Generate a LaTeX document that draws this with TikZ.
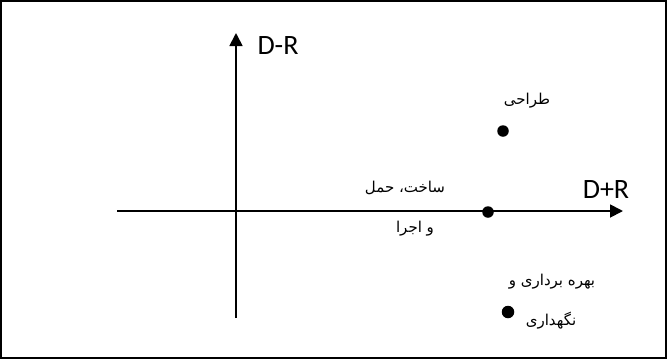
\documentclass[tikz,border=0pt]{standalone}
\usepackage{fontspec}
\usepackage{tikz}
\usetikzlibrary{arrows.meta}
\setmainfont{Carlito}
\newfontfamily\farsi[Script=Arabic]{DejaVu Sans}
\TeXXeTstate=1

\begin{document}
\begin{tikzpicture}[x=1pt,y=-1pt]
\tikzstyle{every node}=[inner sep=0pt];
\tikzstyle{pt}=[circle,fill=black,minimum size=11.5pt];
\tikzstyle{fa}=[font=\farsi\fontsize{15}{18}\selectfont];
\tikzstyle{ax}=[font=\fontsize{28}{34}\selectfont];
\useasboundingbox (0,0) rectangle (667,360);
\draw[line width=1.5pt] (1,1) rectangle (666,358);
% axes
\path (117,211) coordinate (x0);
\path (623,211) coordinate (x1);
\path (236,318) coordinate (y0);
\path (236,33) coordinate (y1);
\draw[line width=1.8pt,-{Triangle[length=13pt,width=13pt]}] (x0) -- (x1);
\draw[line width=1.8pt,-{Triangle[length=13pt,width=13pt]}] (y0) -- (y1);
\path (278,46) node[ax] (dr) {D-R};
\path (606,190) node[ax] (dpr) {D+R};
% phases
\path (503,131) node[pt] (v1) {};
\path (488,212) node[pt] (v2) {};
\path (508,312) node[pt,minimum size=12.5pt] (v3) {};
\path (527,101) node[fa] (t1) {\beginR طراحی\endR};
\path (405,188) node[fa] (t2) {\beginR ساخت، حمل\endR};
\path (415,229) node[fa] (t3) {\beginR و اجرا\endR};
\path (552,282) node[fa] (t4) {\beginR بهره برداری و\endR};
\path (551,321) node[fa] (t5) {\beginR نگهداری\endR};
\end{tikzpicture}
\end{document}
